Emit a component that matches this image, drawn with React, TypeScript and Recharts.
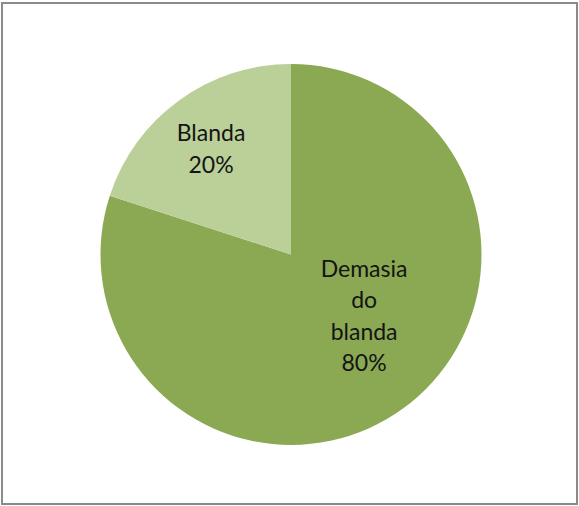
import React from "react";
import { PieChart, Pie, Cell } from "recharts";

const categories = ["Demasia do blanda", "Blanda"];
const values = [80, 20];
const labelLines = [["Demasia", "do", "blanda", "80%"], ["Blanda", "20%"]];
const colors = ["#8BA852", "#BBCF99"];

const data = categories.map((name, i) => ({ name, value: values[i] }));

// label placement (style): radius fraction and angle in degrees
const labelPlace = [
  { r: 0.498, angle: -39.6 },
  { r: 0.699, angle: 126.9 },
];

const RAD = Math.PI / 180;

const renderLabel = (props: any) => {
  const { cx, cy, outerRadius, index } = props;
  const place = labelPlace[index];
  const x = cx + outerRadius * place.r * Math.cos(place.angle * RAD);
  const y = cy - outerRadius * place.r * Math.sin(place.angle * RAD);
  const lines = labelLines[index];
  const lh = 31.3;
  const startY = y - ((lines.length - 1) * lh) / 2;
  return (
    <text
      key={index}
      x={x}
      y={startY}
      textAnchor="middle"
      dominantBaseline="central"
      fill="#141414"
      fontFamily="Lato, 'Open Sans', sans-serif"
      fontSize={23}
    >
      {lines.map((l, i) => (
        <tspan key={i} x={x} y={startY + i * lh} dominantBaseline="central">
          {l}
        </tspan>
      ))}
    </text>
  );
};

export default function App() {
  return (
    <div style={{ position: "absolute", left: 0, top: 0, width: 579, height: 506, background: "#fff" }}>
      <div
        style={{
          position: "absolute",
          left: 1,
          top: 2,
          width: 577,
          height: 503,
          boxSizing: "border-box",
          border: "2px solid #8a8a8a",
        }}
      />
      <div style={{ position: "absolute", left: 0, top: 0 }}>
        <PieChart width={579} height={506} margin={{ top: 0, left: 0, right: 0, bottom: 0 }}>
          <Pie
            data={data}
            dataKey="value"
            nameKey="name"
            cx={291}
            cy={254.5}
            outerRadius={190.5}
            startAngle={90}
            endAngle={-270}
            stroke="none"
            label={renderLabel}
            labelLine={false}
            isAnimationActive={false}
          >
            {data.map((d, i) => (
              <Cell key={d.name} fill={colors[i]} />
            ))}
          </Pie>
        </PieChart>
      </div>
    </div>
  );
}
